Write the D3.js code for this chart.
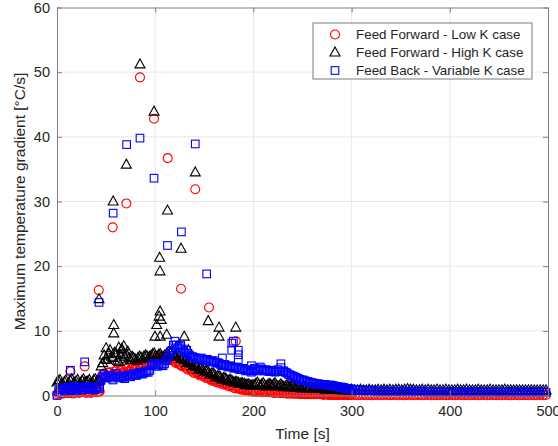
<!DOCTYPE html>
<html lang="en">

<head>
  <meta charset="UTF-8">
  <title>Maximum temperature gradient</title>
  <script src="https://cdn.jsdelivr.net/npm/d3@7/dist/d3.min.js"></script>
  <style>
    body {
      margin: 0;
      background: #ffffff;
    }

    svg {
      display: block;
      font-family: 'Liberation Sans', Arial, sans-serif;
    }
  </style>
</head>

<body>
  <svg id="chart" width="558" height="446"></svg>

  <script>
    // sample times of the dense band (s)
    const bandTime = [
      0, 3, 6, 9, 12, 15, 18, 21, 24, 27, 30, 33, 36, 39, 42,
      45, 48, 51, 54, 57, 60, 63, 66, 69, 72, 75, 78, 81, 84, 87, 90, 93,
      96, 99, 102, 105, 108, 111, 114,
      117, 120, 123, 126, 129, 132, 135, 138, 141, 144, 147, 150, 153, 156, 159, 162, 165, 168, 171, 174, 177, 180, 183, 186, 189, 192, 195, 198,
      201, 204, 207, 210, 213, 216, 219, 222, 225, 228, 231, 234, 237, 240, 243, 246, 249, 252, 255, 258, 261, 264, 267, 270, 273, 276, 279, 282, 285, 288, 291, 294, 297, 300,
      303, 306, 309, 312, 315, 318, 321, 324, 327, 330, 333,
      336, 339, 342, 345, 348, 351, 354, 357, 360, 363, 366,
      369, 372, 375, 378, 381, 384, 387, 390, 393, 396, 399,
      402, 405, 408, 411, 414, 417, 420, 423, 426, 429, 432,
      435, 438, 441, 444, 447, 450, 453, 456, 459, 462, 465,
      468, 471, 474, 477, 480, 483, 486, 489, 492, 495, 498
    ];

    // in-between samples of the first 300 s
    const bandTimeMid = [
      1.5, 4.5, 7.5, 10.5, 13.5, 16.5, 19.5, 22.5, 25.5, 28.5, 31.5, 34.5, 37.5, 40.5, 43.5,
      46.5, 49.5, 52.5, 55.5, 58.5, 61.5, 64.5, 67.5, 70.5, 73.5, 76.5, 79.5, 82.5, 85.5, 88.5, 91.5, 94.5,
      97.5, 100.5, 103.5, 106.5, 109.5, 112.5, 115.5,
      118.5, 121.5, 124.5, 127.5, 130.5, 133.5, 136.5, 139.5, 142.5, 145.5, 148.5, 151.5, 154.5, 157.5, 160.5, 163.5, 166.5, 169.5, 172.5, 175.5, 178.5, 181.5, 184.5, 187.5, 190.5, 193.5, 196.5, 199.5,
      202.5, 205.5, 208.5, 211.5, 214.5, 217.5, 220.5, 223.5, 226.5, 229.5, 232.5, 235.5, 238.5, 241.5, 244.5, 247.5, 250.5, 253.5, 256.5, 259.5, 262.5, 265.5, 268.5, 271.5, 274.5, 277.5, 280.5, 283.5, 286.5, 289.5, 292.5, 295.5, 298.5
    ];

    // Feed Forward - Low K case
    const lowKBand = [
      0.2, 0.5, 0.3, 0.6, 0.4, 0.7, 0.4, 0.6, 0.5, 0.7, 0.4, 0.6, 0.5, 0.8, 0.6,
      2.8, 3.4, 3.0, 3.6, 3.2, 3.8, 3.3, 4.0, 3.5, 4.2, 3.7, 4.4, 4.0, 4.7, 4.3, 5.0, 4.7,
      5.2, 5.8, 5.4, 6.0, 5.6, 5.9, 5.5,
      5.6, 5.2, 5.3, 4.7, 4.8, 4.2, 4.3, 3.7, 3.8, 3.3, 3.3, 2.9, 2.9, 2.5, 2.5, 2.1, 2.2, 1.8, 1.9, 1.5, 1.6, 1.2, 1.3, 1.0, 1.0, 0.8, 0.9, 0.7,
      0.7, 0.6, 0.7, 0.5, 0.6, 0.5, 0.5, 0.4, 0.5, 0.4, 0.4, 0.3, 0.4, 0.3, 0.3, 0.3, 0.3, 0.2, 0.3, 0.2, 0.2, 0.2, 0.2, 0.2, 0.2, 0.1, 0.2, 0.1, 0.1, 0.1, 0.1, 0.1, 0.1, 0.1,
      0.1, 0.05, 0.1, 0.1, 0.05, 0.1, 0.05, 0.1, 0.1, 0.05, 0.1,
      0.1, 0.05, 0.1, 0.1, 0.05, 0.1, 0.05, 0.1, 0.1, 0.05, 0.1,
      0.1, 0.05, 0.1, 0.1, 0.05, 0.1, 0.05, 0.1, 0.1, 0.05, 0.1,
      0.1, 0.05, 0.1, 0.1, 0.05, 0.1, 0.05, 0.1, 0.1, 0.05, 0.1,
      0.1, 0.05, 0.1, 0.1, 0.05, 0.1, 0.05, 0.1, 0.1, 0.05, 0.1,
      0.1, 0.05, 0.1, 0.1, 0.05, 0.1, 0.05, 0.1, 0.1, 0.05, 0.1
    ];
    const lowKBandMid = [
      0.4, 0.3, 0.6, 0.4, 0.5, 0.3, 0.6, 0.4, 0.7, 0.5, 0.6, 0.4, 0.7, 0.5, 0.6,
      3.2, 2.9, 3.5, 3.1, 3.7, 3.4, 3.8, 3.6, 4.1, 3.8, 4.3, 4.1, 4.5, 4.4, 4.8, 4.7, 5.1,
      5.5, 5.4, 5.9, 5.7, 5.8, 5.6, 5.7,
      5.4, 5.0, 4.9, 4.5, 4.5, 4.0, 4.0, 3.5, 3.5, 3.1, 3.1, 2.7, 2.7, 2.3, 2.3, 2.0, 2.0, 1.7, 1.7, 1.4, 1.4, 1.1, 1.1, 0.9, 0.9, 0.8, 0.7, 0.6,
      0.6, 0.6, 0.5, 0.6, 0.5, 0.5, 0.4, 0.5, 0.4, 0.4, 0.4, 0.3, 0.3, 0.3, 0.3, 0.2, 0.3, 0.2, 0.2, 0.2, 0.2, 0.2, 0.2, 0.1, 0.2, 0.1, 0.1, 0.1, 0.1, 0.1, 0.1, 0.1, 0.1
    ];

    // Feed Forward - High K case
    const highKBand = [
      2.0, 2.4, 1.8, 2.3, 1.9, 2.5, 2.0, 2.4, 1.9, 2.5, 2.1, 2.4, 2.0, 2.5, 2.2,
      4.5, 6.2, 5.5, 7.0, 5.8, 6.5, 5.2, 7.2, 6.0, 6.8, 5.5, 5.8, 5.4, 6.0, 5.6, 6.2, 5.8,
      6.2, 6.5, 6.0, 6.4, 5.9, 6.3, 6.0,
      6.8, 6.2, 6.5, 5.6, 5.9, 5.0, 5.3, 4.5, 4.8, 4.0, 4.3, 3.6, 3.8, 3.2, 3.4, 2.8, 3.0, 2.5, 2.7, 2.2, 2.4, 2.0, 2.1, 1.8, 1.9, 1.6, 1.7, 1.5,
      1.6, 2.0, 1.5, 1.9, 1.4, 1.8, 1.5, 1.9, 1.4, 1.7, 1.3, 1.6, 1.3, 1.5, 1.2, 1.4, 1.1, 1.3, 1.1, 1.3, 1.0, 1.2, 1.0, 1.2, 0.9, 1.1, 0.9, 1.0, 0.9, 1.0, 0.8, 1.0, 0.8, 0.9,
      0.8, 0.8, 0.9, 0.8, 0.8, 0.9, 0.8, 0.8, 0.9, 0.8, 0.9,
      0.8, 0.9, 0.8, 0.9, 0.9, 0.8, 0.9, 1.0, 0.9, 0.9, 0.8,
      0.8, 0.9, 0.8, 0.9, 0.8, 0.8, 0.9, 0.8, 0.8, 0.9, 0.8,
      0.8, 0.8, 0.9, 0.8, 0.8, 0.9, 0.8, 0.8, 0.8, 0.9, 0.8,
      0.8, 0.8, 0.9, 0.8, 0.8, 0.8, 0.8, 0.9, 0.8, 0.8, 0.8,
      0.8, 0.8, 0.8, 0.8, 0.8, 0.8, 0.8, 0.8, 0.8, 0.8, 0.8
    ];
    const highKBandMid = [
      2.2, 1.7, 2.1, 1.6, 2.3, 1.8, 2.2, 1.7, 2.3, 2.0, 2.2, 1.8, 2.4, 2.1, 2.3,
      5.0, 5.6, 6.4, 6.0, 6.6, 5.4, 6.2, 5.6, 6.4, 5.8, 6.0, 5.6, 5.8, 5.9, 6.0, 6.1, 6.0,
      6.4, 6.1, 6.3, 6.1, 6.2, 6.4, 6.5,
      6.5, 6.0, 6.0, 5.7, 5.5, 5.2, 5.0, 4.7, 4.5, 4.2, 4.0, 3.8, 3.6, 3.4, 3.2, 3.0, 2.8, 2.7, 2.5, 2.4, 2.2, 2.1, 2.0, 1.9, 1.8, 1.7, 1.6, 1.6,
      1.8, 1.7, 1.7, 1.6, 1.6, 1.7, 1.7, 1.6, 1.5, 1.5, 1.4, 1.4, 1.4, 1.3, 1.3, 1.2, 1.2, 1.2, 1.2, 1.1, 1.1, 1.1, 1.1, 1.0, 1.0, 1.0, 0.9, 0.9, 0.9, 0.9, 0.9, 0.9, 0.8
    ];

    // Feed Back - Variable K case
    const variableKBand = [
      0.0, 0.9, 1.2, 0.8, 1.3, 0.9, 1.4, 1.0, 1.3, 0.9, 1.4, 1.0, 1.2, 0.9, 1.3,
      2.5, 3.2, 2.7, 3.1, 2.4, 3.4, 2.7, 3.0, 2.6, 3.2, 2.9, 3.4, 3.1, 3.6, 3.3, 3.8, 3.6,
      4.6, 5.0, 4.5, 4.9, 4.6, 5.4, 6.2,
      7.0, 8.4, 7.4, 7.8, 6.8, 7.0, 6.2, 6.0, 5.8, 5.6, 5.8, 5.4, 5.6, 5.2, 5.4, 5.0, 5.0, 4.6, 4.8, 4.4, 4.6, 4.2, 4.4, 4.0, 4.2, 3.8, 4.0, 3.6,
      4.2, 3.8, 4.4, 3.9, 4.0, 3.7, 3.9, 3.6, 4.0, 4.3,
      3.8, 3.5, 3.2, 3.0, 2.8, 2.6, 2.4, 2.3, 2.2, 2.0, 1.9, 1.8, 1.8, 1.7, 1.7, 1.6, 1.6, 1.5, 1.4, 1.3, 1.2, 1.1, 1.0, 1.0,
      0.9, 0.8, 0.9, 0.7, 0.8, 0.7, 0.8, 0.7, 0.6, 0.7, 0.6,
      0.7, 0.6, 0.6, 0.7, 0.6, 0.6, 0.7, 0.6, 0.6, 0.7, 0.6,
      0.6, 0.7, 0.6, 0.5, 0.6, 0.6, 0.5, 0.6, 0.6, 0.5, 0.6,
      0.6, 0.5, 0.6, 0.6, 0.5, 0.6, 0.6, 0.5, 0.6, 0.6, 0.5,
      0.6, 0.5, 0.6, 0.6, 0.5, 0.6, 0.5, 0.6, 0.6, 0.5, 0.6,
      0.5, 0.6, 0.6, 0.5, 0.6, 0.5, 0.6, 0.6, 0.5, 0.6, 0.5
    ];
    const variableKBandMid = [
      0.6, 1.1, 0.7, 1.1, 0.8, 1.2, 0.8, 1.2, 0.9, 1.2, 1.0, 1.3, 1.0, 1.2, 1.1,
      2.9, 2.8, 3.0, 2.7, 2.9, 3.0, 2.9, 2.8, 2.9, 3.0, 3.2, 3.2, 3.3, 3.4, 3.5, 3.6, 3.9,
      4.8, 4.7, 4.8, 4.7, 4.9, 5.8, 6.8,
      7.8, 7.8, 7.6, 7.2, 6.6, 6.5, 6.0, 5.9, 5.7, 5.7, 5.6, 5.5, 5.4, 5.3, 5.2, 5.1, 4.8, 4.7, 4.6, 4.5, 4.4, 4.3, 4.2, 4.1, 4.0, 3.9, 3.8, 3.8,
      4.0, 4.1, 4.1, 3.8, 3.8, 3.8, 3.7, 3.7, 3.7, 3.8,
      3.6, 3.3, 3.1, 2.9, 2.7, 2.5, 2.4, 2.2, 2.1, 2.0, 1.9, 1.8, 1.7, 1.7, 1.6, 1.6, 1.5, 1.4, 1.3, 1.3, 1.2, 1.1, 1.0
    ];

    // isolated spikes [time, gradient]
    const lowKSpikes = [
      [13.6, 3.7], [28.2, 4.5], [42.5, 16.3], [56.7, 26.0], [70.6, 29.7], [84.5, 49.2], [98.8, 42.8],
      [112.7, 36.7], [126.3, 16.5], [140.8, 31.9], [154.8, 13.6], [167.7, 4.8], [182, 8.4]
    ];
    const highKSpikes = [
      [42.8, 14.9], [50, 7.3], [57.2, 30.0], [57.8, 10.9], [57.8, 9.6], [63, 7.4], [66, 7.0], [68, 7.6],
      [70.6, 35.7], [84.5, 51.2], [98.8, 43.9], [104.5, 21.3], [104.9, 19.2], [105, 13.0], [104, 12.2],
      [106, 11.7], [101.5, 10.9], [99.8, 9.1], [105, 9.1], [111.7, 9.4], [112.5, 28.6], [126.3, 22.7],
      [129.6, 9.1], [133.7, 7.0], [140.8, 34.5], [154, 11.5], [165, 10.5], [165, 9.1], [182, 10.5]
    ];
    const variableKSpikes = [
      [13.6, 3.9], [28.2, 5.2], [42.8, 14.4], [57.2, 28.2], [70.9, 38.8], [84.5, 39.8], [98.8, 33.6],
      [112.5, 23.2], [126.7, 25.3], [140.8, 38.9], [152.4, 18.8], [168.4, 5.8], [177.9, 7.0], [179.6, 8.4],
      [178, 8.1], [184.6, 7.0], [184.6, 6.3], [184.6, 5.5], [198, 4.6], [228, 4.9]
    ];

    const xTicks = [0, 100, 200, 300, 400, 500];
    const yTicks = [0, 10, 20, 30, 40, 50, 60];
    const seriesNames = ["Feed Forward - Low K case", "Feed Forward - High K case", "Feed Back - Variable K case"];

    const margin = { top: 7.5, right: 10, bottom: 50.5, left: 57 };
    const width = 558 - margin.left - margin.right;
    const height = 446 - margin.top - margin.bottom;

    const svg = d3.select("#chart");
    const g = svg.append("g").attr("transform", `translate(${margin.left},${margin.top})`);

    const x = d3.scaleLinear().domain([0, 500]).range([0, width]);
    const y = d3.scaleLinear().domain([0, 60]).range([height, 0]);

    // grid
    g.append("g").selectAll("line").data(xTicks.slice(1, -1)).join("line")
      .attr("x1", d => x(d)).attr("x2", d => x(d))
      .attr("y1", 0).attr("y2", height)
      .attr("stroke", "#e8e8e8");
    g.append("g").selectAll("line").data(yTicks.slice(1, -1)).join("line")
      .attr("x1", 0).attr("x2", width)
      .attr("y1", d => y(d)).attr("y2", d => y(d))
      .attr("stroke", "#e8e8e8");

    // markers
    const trianglePath = "M0,-5.5L5,3.5L-5,3.5Z";
    const markers = [
      { name: seriesNames[0], band: lowKBand, mid: lowKBandMid, spikes: lowKSpikes, color: "#ff0000", shape: "circle" },
      { name: seriesNames[1], band: highKBand, mid: highKBandMid, spikes: highKSpikes, color: "#000000", shape: "triangle" },
      { name: seriesNames[2], band: variableKBand, mid: variableKBandMid, spikes: variableKSpikes, color: "#0000ff", shape: "square" }
    ];

    const drawMarker = (sel, shape, color) => {
      if (shape === "circle") {
        sel.append("circle").attr("r", 4.5);
      } else if (shape === "triangle") {
        sel.append("path").attr("d", trianglePath);
      } else {
        sel.append("rect").attr("x", -3.8).attr("y", -3.8).attr("width", 7.6).attr("height", 7.6);
      }
      sel.selectAll("*")
        .attr("fill", "none")
        .attr("stroke", color)
        .attr("stroke-width", 1.1);
    };

    markers.forEach(s => {
      const pts = d3.zip(bandTime, s.band)
        .concat(d3.zip(bandTimeMid, s.mid))
        .concat(s.spikes);
      g.append("g").selectAll("g").data(pts).join("g")
        .attr("transform", d => `translate(${x(d[0])},${y(d[1])})`)
        .each(function () { drawMarker(d3.select(this), s.shape, s.color); });
    });

    // axes, box with inward ticks
    const axisColor = "#808080";
    const textColor = "#262626";

    const styleAxis = (ax) => {
      ax.select(".domain").attr("stroke", axisColor);
      ax.selectAll(".tick line").attr("stroke", axisColor);
      ax.selectAll(".tick text").attr("fill", textColor).attr("font-size", 14.5)
        .attr("font-family", "'Liberation Sans', Arial, sans-serif");
    };

    g.append("g").attr("transform", `translate(0,${height})`)
      .call(d3.axisBottom(x).tickValues(xTicks).tickSize(-5).tickPadding(10).tickSizeOuter(0))
      .call(styleAxis);
    g.append("g")
      .call(d3.axisLeft(y).tickValues(yTicks).tickSize(-5).tickPadding(7).tickSizeOuter(0))
      .call(styleAxis);
    g.append("g")
      .call(d3.axisTop(x).tickValues(xTicks).tickSize(-5).tickFormat("").tickSizeOuter(0))
      .call(styleAxis);
    g.append("g").attr("transform", `translate(${width},0)`)
      .call(d3.axisRight(y).tickValues(yTicks).tickSize(-5).tickFormat("").tickSizeOuter(0))
      .call(styleAxis);

    // axis labels
    svg.append("text")
      .attr("x", margin.left + width / 2).attr("y", 439)
      .attr("text-anchor", "middle")
      .attr("font-size", 15.5).attr("fill", textColor)
      .text("Time [s]");

    svg.append("text")
      .attr("transform", `translate(25,${margin.top + height / 2}) rotate(-90)`)
      .attr("text-anchor", "middle")
      .attr("font-size", 15.5).attr("fill", textColor)
      .text("Maximum temperature gradient [°C/s]");

    // legend
    const legend = svg.append("g").attr("transform", "translate(313,23)");
    legend.append("rect")
      .attr("width", 219).attr("height", 56)
      .attr("fill", "#ffffff").attr("stroke", "#7a7a7a").attr("stroke-width", 1);

    markers.forEach((s, i) => {
      const row = legend.append("g").attr("transform", `translate(0,${11.5 + i * 18})`);
      const m = row.append("g").attr("transform", "translate(22,0)");
      drawMarker(m, s.shape, s.color);
      row.append("text")
        .attr("x", 43).attr("dy", "0.35em")
        .attr("font-size", 13.4).attr("fill", textColor)
        .text(s.name);
    });
  </script>
</body>

</html>
